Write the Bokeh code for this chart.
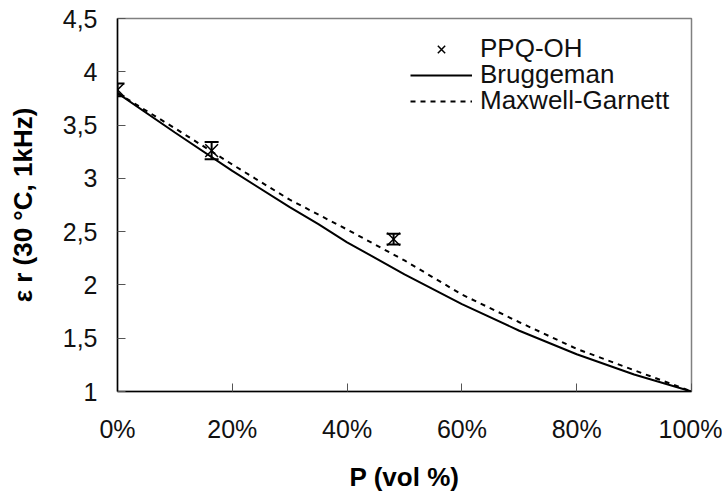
from bokeh.plotting import figure
from bokeh.models import (ColumnDataSource, Whisker, TeeHead, Legend, LegendItem,
                          Range1d, FixedTicker, PrintfTickFormatter)
from bokeh.embed import file_html
from bokeh.resources import INLINE

# ---- data ----
meas_p = [0.0, 16.4, 48.1]            # vol %
meas_eps = [3.83, 3.26, 2.43]
meas_err = [0.06, 0.08, 0.05]

brug_p = [0, 10, 20, 30, 35, 40, 50, 60, 70, 80, 90, 100]
brug_eps = [3.80, 3.43, 3.07, 2.73, 2.57, 2.40, 2.10, 1.82, 1.57, 1.35, 1.16, 1.00]

mg_p = [0, 10, 20, 30, 40, 50, 60, 70, 80, 90, 100]
mg_eps = [3.80, 3.47, 3.13, 2.80, 2.52, 2.23, 1.91, 1.65, 1.40, 1.20, 1.00]

x_ticks = [0, 20, 40, 60, 80, 100]
y_ticks = [1, 1.5, 2, 2.5, 3, 3.5, 4, 4.5]
y_tick_labels = ["1", "1,5", "2", "2,5", "3", "3,5", "4", "4,5"]

FONT = "Liberation Sans"

p = figure(width=722, height=494, x_range=Range1d(0, 100), y_range=Range1d(1, 4.5),
           output_backend="svg", toolbar_location=None,
           min_border_left=117, min_border_right=31, min_border_top=18, min_border_bottom=101)

p.xgrid.visible = False
p.ygrid.visible = False
p.outline_line_color = "#808080"
p.outline_line_width = 1.5
p.background_fill_color = "white"
p.border_fill_color = "white"

for ax in (p.xaxis[0], p.yaxis[0]):
    ax.axis_line_color = "black"
    ax.axis_line_width = 1.5
    ax.major_tick_in = 8
    ax.major_tick_out = 0
    ax.major_tick_line_color = "#555555"
    ax.minor_tick_line_color = None
    ax.major_label_text_font = FONT
    ax.major_label_text_font_size = "25px"
    ax.major_label_text_color = "#111111"
    ax.axis_label_text_font = FONT
    ax.axis_label_text_font_size = "26px"
    ax.axis_label_text_font_style = "bold"
    ax.axis_label_text_color = "black"

p.xaxis.ticker = FixedTicker(ticks=x_ticks)
p.xaxis.formatter = PrintfTickFormatter(format="%d%%")
p.xaxis.major_label_standoff = 23
p.xaxis.axis_label = "P (vol %)"
p.xaxis.axis_label_standoff = 16

p.yaxis.ticker = FixedTicker(ticks=y_ticks)
p.yaxis.major_label_overrides = {t: s for t, s in zip(y_ticks, y_tick_labels)}
p.yaxis.major_label_standoff = 20
p.yaxis.axis_label = "ε r (30 °C, 1kHz)"
p.yaxis.axis_label_standoff = 22

# ---- curves ----
lb = p.line(brug_p, brug_eps, line_color="black", line_width=2)
lm = p.line(mg_p, mg_eps, line_color="black", line_width=2, line_dash="5 5")

# ---- measurements ----
src = ColumnDataSource(dict(
    x=meas_p, y=meas_eps,
    lower=[v - e for v, e in zip(meas_eps, meas_err)],
    upper=[v + e for v, e in zip(meas_eps, meas_err)],
))
wh = Whisker(base="x", lower="lower", upper="upper", source=src, dimension="height",
             line_color="black", line_width=2,
             upper_head=TeeHead(size=14, line_width=2, line_color="black"),
             lower_head=TeeHead(size=14, line_width=2, line_color="black"))
p.add_layout(wh)
sc = p.scatter("x", "y", source=src, marker="x", size=18, line_color="black", line_width=1.5)

# one single-item legend per row, so the row spacing can follow the reference
legend_rows = [("PPQ-OH", sc, 327), ("Bruggeman", lb, 301), ("Maxwell-Garnett", lm, 275)]
for label, rend, ypos in legend_rows:
    lg = Legend(items=[LegendItem(label=label, renderers=[rend])],
                location=(293, ypos), glyph_width=62, glyph_height=26, label_height=26,
                label_standoff=8, spacing=0,
                padding=0, margin=0, border_line_alpha=0, background_fill_alpha=0,
                label_text_font=FONT, label_text_font_size="26px", label_text_color="#111111")
    p.add_layout(lg)

open("out.html", "w").write(file_html(p, INLINE))
